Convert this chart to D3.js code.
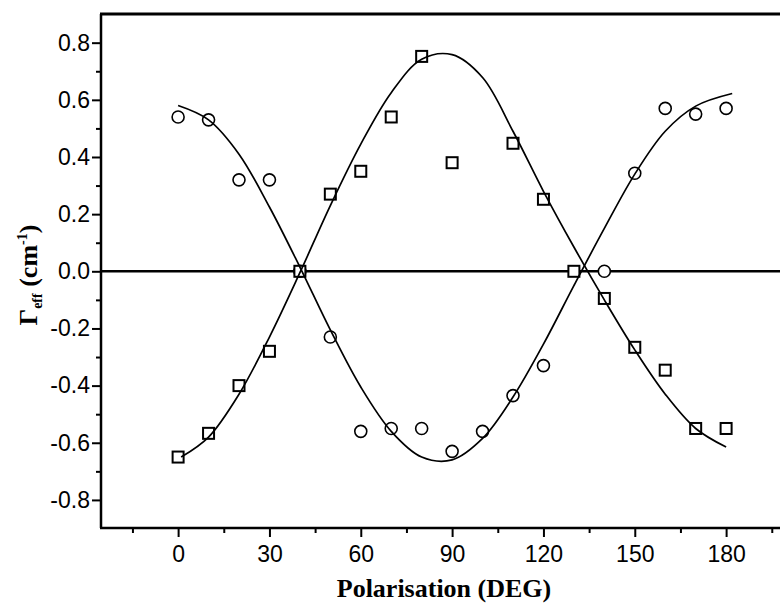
<!DOCTYPE html>
<html>
<head>
<meta charset="utf-8">
<script src="https://cdn.jsdelivr.net/npm/d3@7.9.0/dist/d3.min.js"></script>
<style>
  body { margin: 0; background: #fff; }
  svg { display: block; }
  .tick text { font-family: "Liberation Sans", Arial, sans-serif; font-size: 23px; fill: #000; }
</style>
</head>
<body>
<div id="chart"></div>
<script>
// measured points (polarisation angle in degrees, Gamma_eff in cm^-1)
const circleAngles = [0, 10, 20, 30, 40, 50, 60, 70, 80, 90, 100, 110, 120, 140, 150, 160, 170, 180];
const circleGamma = [0.54, 0.53, 0.32, 0.32, 0.0, -0.23, -0.56, -0.55, -0.55, -0.63, -0.56, -0.435, -0.33, 0.0, 0.343, 0.57, 0.55, 0.57];

const squareAngles = [0, 10, 20, 30, 40, 50, 60, 70, 80, 90, 110, 120, 130, 140, 150, 160, 170, 180];
const squareGamma = [-0.65, -0.567, -0.4, -0.28, 0.0, 0.27, 0.35, 0.54, 0.752, 0.38, 0.448, 0.252, 0.0, -0.095, -0.266, -0.346, -0.55, -0.55];

// fitted curves
const fitCircleAngles = [0, 10, 20, 30, 40, 50, 60, 70, 80, 90, 100, 110, 120, 130, 140, 150, 160, 170, 182];
const fitCircleGamma = [0.58, 0.53, 0.41, 0.225, 0.015, -0.205, -0.405, -0.56, -0.65, -0.66, -0.585, -0.44, -0.255, -0.05, 0.15, 0.34, 0.49, 0.578, 0.622];

const fitSquareAngles = [1, 10, 20, 30, 40, 50, 60, 70, 80, 90, 100, 110, 120, 130, 140, 150, 160, 170, 180];
const fitSquareGamma = [-0.65, -0.58, -0.43, -0.23, -0.005, 0.23, 0.445, 0.625, 0.742, 0.758, 0.678, 0.49, 0.28, 0.085, -0.1, -0.275, -0.43, -0.55, -0.615];

const angleTicks = [0, 30, 60, 90, 120, 150, 180];
const angleMinorTicks = [-15, 15, 45, 75, 105, 135, 165, 195];
const gammaTicks = [-0.8, -0.6, -0.4, -0.2, 0.0, 0.2, 0.4, 0.6, 0.8];
const gammaMinorTicks = [-0.7, -0.5, -0.3, -0.1, 0.1, 0.3, 0.5, 0.7];

const width = 780;
const height = 606;
const plot = { left: 101, right: 780, top: 14, bottom: 528 };

const svg = d3.select('#chart')
  .append('svg')
  .attr('width', width)
  .attr('height', height);

const x = d3.scaleLinear().domain([-25, 200]).range([102, 787]);
const y = d3.scaleLinear().domain([-0.9, 0.9]).range([528.5, 14.1]);

// axes: major + minor ticks
svg.append('g')
  .attr('transform', `translate(${plot.left},0)`)
  .call(d3.axisLeft(y).tickValues(gammaTicks).tickSize(9).tickSizeOuter(0).tickPadding(2)
    .tickFormat((d) => d.toFixed(1)));
svg.append('g')
  .attr('transform', `translate(${plot.left},0)`)
  .call(d3.axisLeft(y).tickValues(gammaMinorTicks).tickSize(5).tickFormat(''));

svg.append('g')
  .attr('transform', `translate(0,${plot.bottom})`)
  .call(d3.axisBottom(x).tickValues(angleTicks).tickSize(9).tickSizeOuter(0).tickPadding(9));
svg.append('g')
  .attr('transform', `translate(0,${plot.bottom})`)
  .call(d3.axisBottom(x).tickValues(angleMinorTicks).tickSize(5).tickFormat(''));

svg.selectAll('.domain').remove();
svg.selectAll('.tick line').attr('stroke', '#000').attr('stroke-width', 2);

// frame
svg.append('line')
  .attr('x1', plot.left - 1).attr('x2', plot.right)
  .attr('y1', plot.top).attr('y2', plot.top)
  .attr('stroke', '#000').attr('stroke-width', 3);
svg.append('line')
  .attr('x1', plot.left).attr('x2', plot.left)
  .attr('y1', plot.top).attr('y2', plot.bottom)
  .attr('stroke', '#000').attr('stroke-width', 2.5);
svg.append('line')
  .attr('x1', plot.left - 1).attr('x2', plot.right)
  .attr('y1', plot.bottom).attr('y2', plot.bottom)
  .attr('stroke', '#000').attr('stroke-width', 2.5);

// zero line
svg.append('line')
  .attr('x1', plot.left).attr('x2', plot.right)
  .attr('y1', y(0)).attr('y2', y(0))
  .attr('stroke', '#000').attr('stroke-width', 2.5);

// markers
const circles = circleAngles.map((a, i) => ({ a, g: circleGamma[i] }));
const squares = squareAngles.map((a, i) => ({ a, g: squareGamma[i] }));

svg.append('g')
  .selectAll('circle')
  .data(circles)
  .join('circle')
  .attr('cx', (d) => x(d.a))
  .attr('cy', (d) => y(d.g))
  .attr('r', 6)
  .attr('fill', '#fff')
  .attr('stroke', '#000')
  .attr('stroke-width', 1.6);

const sq = 11;
svg.append('g')
  .selectAll('rect')
  .data(squares)
  .join('rect')
  .attr('x', (d) => x(d.a) - sq / 2)
  .attr('y', (d) => y(d.g) - sq / 2)
  .attr('width', sq)
  .attr('height', sq)
  .attr('fill', '#fff')
  .attr('stroke', '#000')
  .attr('stroke-width', 2);

// fitted curves
const line = d3.line()
  .x((d) => x(d[0]))
  .y((d) => y(d[1]))
  .curve(d3.curveCatmullRom.alpha(0.5));

[[fitCircleAngles, fitCircleGamma], [fitSquareAngles, fitSquareGamma]].forEach(([as, gs]) => {
  svg.append('path')
    .datum(as.map((a, i) => [a, gs[i]]))
    .attr('d', line)
    .attr('fill', 'none')
    .attr('stroke', '#000')
    .attr('stroke-width', 1.7);
});

// axis titles
svg.append('text')
  .attr('x', 444)
  .attr('y', 597)
  .attr('text-anchor', 'middle')
  .style('font-family', '"Liberation Serif", "Times New Roman", serif')
  .style('font-weight', 'bold')
  .style('font-size', '26px')
  .text('Polarisation (DEG)');

const yTitle = svg.append('text')
  .attr('transform', 'translate(37,275) rotate(-90)')
  .attr('text-anchor', 'middle')
  .style('font-family', '"Liberation Serif", "Times New Roman", serif')
  .style('font-weight', 'bold')
  .style('font-size', '26px');
yTitle.append('tspan').text('\u0393');
yTitle.append('tspan').attr('dy', 5).style('font-size', '14px').text('eff');
yTitle.append('tspan').attr('dy', -5).text(' (cm');
yTitle.append('tspan').attr('dy', -10).style('font-size', '14px').text('-1');
yTitle.append('tspan').attr('dy', 10).text(')');
</script>
</body>
</html>
